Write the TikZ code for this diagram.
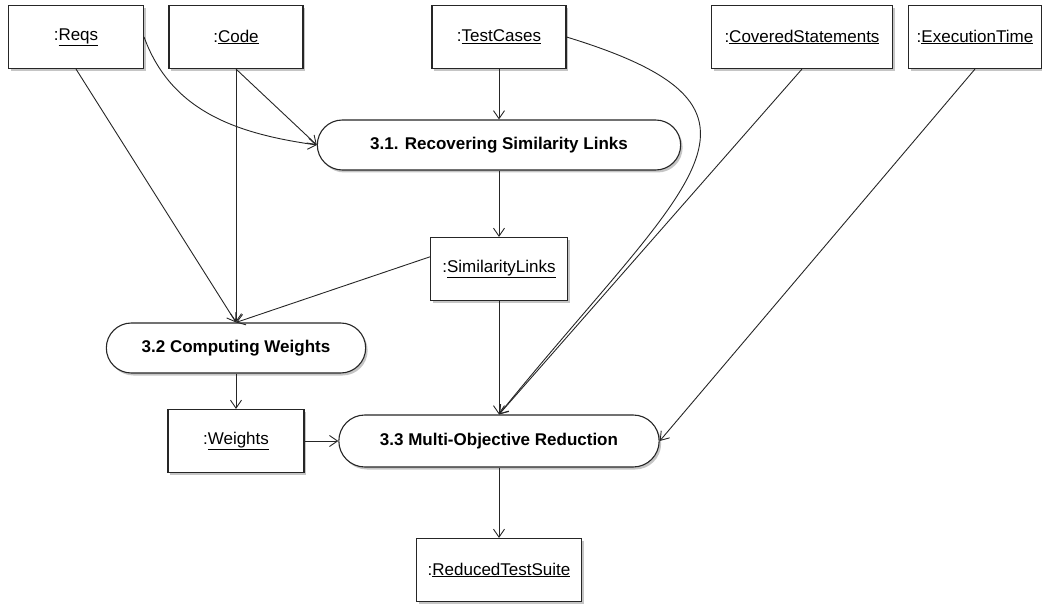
\documentclass[tikz,border=0pt]{standalone}
\usepackage{fontspec}
\setmainfont{Liberation Sans}
\usepackage{tikz}
\usetikzlibrary{shapes.misc,shadows,arrows.meta}
\tikzstyle{object} = [rectangle, minimum width=134pt, minimum height=63pt, inner sep=8pt, text centered, draw=black!85, line width=1.1pt, fill=white, drop shadow={shadow xshift=2pt, shadow yshift=-2.5pt, fill=black!45, opacity=0.5}]
\tikzstyle{process} = [rounded rectangle, minimum height=50pt, text centered, draw=black!85, line width=1.1pt, fill=white, font=\fontsize{17}{20}\selectfont\bfseries, drop shadow={shadow xshift=2pt, shadow yshift=-2.5pt, fill=black!45, opacity=0.5}]
\tikzstyle{arrow} = [line width=0.9pt, black!85, ->, >={Straight Barb[length=8pt,width=11pt]}]

\begin{document}
\begin{tikzpicture}[x=1pt, y=1pt, node distance=100pt, font=\fontsize{17}{20}\selectfont]
    \useasboundingbox (0,0) rectangle (1042,-607);
    % inputs
    \node (reqs) [object, minimum width=135pt] at (76,-37) {:\underline{Reqs}};
    \node (code) [object, right of=reqs, xshift=60pt] {:\underline{Code}};
    \node (testcases) [object, right of=code, xshift=163pt] {:\underline{TestCases}};
    \node (covered) [object, minimum width=181pt, right of=testcases, xshift=203pt] {:\underline{CoveredStatements}};
    \node (exectime) [object, minimum width=129pt, right of=covered, xshift=73pt] {:\underline{ExecutionTime}};
    % steps and artefacts
    \node (recover) [process, minimum width=370pt, below of=testcases, yshift=-8pt] {3.1. Recovering Similarity Links};
    \node (simlinks) [object, minimum width=137pt, below of=recover, yshift=-24pt] {:\underline{SimilarityLinks}};
    \node (weighting) [process, minimum width=266pt, below of=code, yshift=-211pt] {3.2 Computing Weights};
    \node (weights) [object, minimum width=136pt, below of=weighting, yshift=7pt] {:\underline{Weights}};
    \node (reduction) [process, minimum width=327pt, minimum height=52pt, below of=simlinks, yshift=-72pt] {3.3 Multi-Objective Reduction};
    \node (reduced) [object, minimum width=165pt, below of=reduction, yshift=-29pt] {:\underline{ReducedTestSuite}};
    % flows
    \draw [arrow] (reqs.south) -- (weighting.north);
    \draw [arrow] (reqs.east) to[out=-70, in=172] (recover.west);
    \draw [arrow] (code.south) -- (weighting.north);
    \draw [arrow] (code.south) -- (recover.west);
    \draw [arrow] (testcases.south) -- (recover.north);
    \draw [arrow] (testcases.east) .. controls +(-17:250pt) and +(51:300pt) .. (reduction.north);
    \draw [arrow] (recover.south) -- (simlinks.north);
    \draw [arrow] (simlinks.170) -- (weighting.north);
    \draw [arrow] (simlinks.south) -- (reduction.north);
    \draw [arrow] (covered.south) -- (reduction.north);
    \draw [arrow] (exectime.south) -- (reduction.east);
    \draw [arrow] (weighting.south) -- (weights.north);
    \draw [arrow] (weights.east) -- (reduction.west);
    \draw [arrow] (reduction.south) -- (reduced.north);
\end{tikzpicture}
\end{document}
